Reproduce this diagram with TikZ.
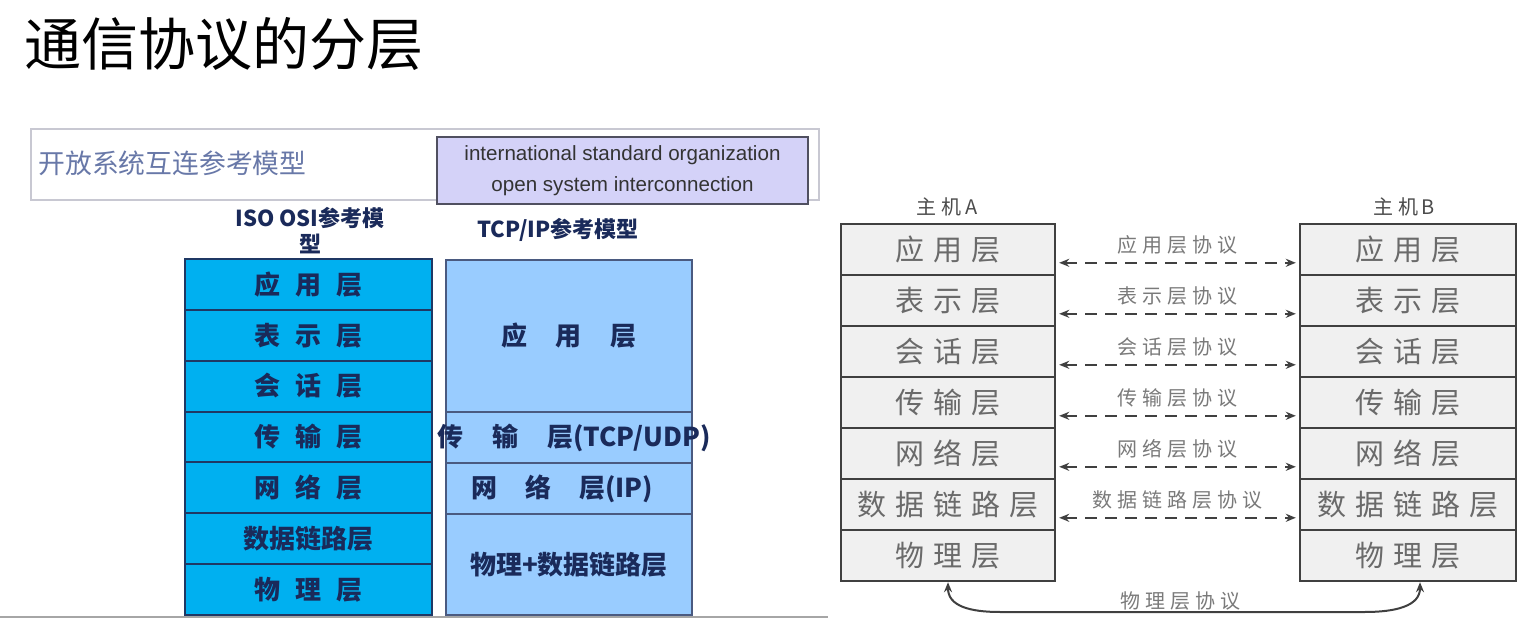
\documentclass[tikz,border=0pt]{standalone}
\usepackage{fontspec}
\setmainfont{Noto Sans CJK SC}
\newfontfamily\latf{Liberation Sans}
\usetikzlibrary{calc,arrows.meta}
\newcommand\pxf[1]{\fontsize{#1}{#1}\selectfont}
\def\letspaux#1{\ifx#1\relax\unkern\else#1\kern\gapsz\expandafter\letspaux\fi}
\newcommand\letsp[2]{\def\gapsz{#1}\expandafter\letspaux#2\relax}
\definecolor{topgray}{HTML}{C8C8D2}
\definecolor{subblue}{HTML}{6878A8}
\definecolor{isofill}{HTML}{D4D2F8}
\definecolor{isoline}{HTML}{505060}
\definecolor{navy}{HTML}{1A2A5A}
\definecolor{osifill}{HTML}{00B0F0}
\definecolor{osiline}{HTML}{1F3864}
\definecolor{tcpfill}{HTML}{99CCFF}
\definecolor{tcpline}{HTML}{4A5A80}
\definecolor{hostfill}{HTML}{F0F0F0}
\definecolor{hostline}{HTML}{404040}
\definecolor{hosttext}{HTML}{6A6A6A}
\definecolor{lbltext}{HTML}{7A7A7A}
\begin{document}
\begin{tikzpicture}[x=0.5pt,y=-0.5pt,
  osirow/.style={draw=osiline,line width=1pt,fill=osifill,minimum width=123.5pt,minimum height=25.43pt,inner sep=0pt,text=navy,font=\pxf{13pt}\bfseries},
  tcprow/.style={draw=tcpline,line width=0.8pt,fill=tcpfill,minimum width=123pt,inner sep=0pt,text=navy,font=\pxf{13pt}\bfseries},
  tcptext/.style={inner sep=0pt,text=navy,font=\pxf{13pt}\bfseries},
  hostrow/.style={draw=hostline,line width=1.2pt,fill=hostfill,minimum height=25.5pt,inner sep=0pt,text=hosttext,font=\pxf{14.5pt}},
  hostlbl/.style={inner sep=0pt,text=black!70,font=\pxf{10pt}},
  proto/.style={text=lbltext,font=\pxf{10pt},inner sep=0pt},
  darr/.style={draw=hostline,line width=1pt,dash pattern=on 6pt off 4pt,{Stealth[length=5pt,width=4pt]}-{Stealth[length=5pt,width=4pt]}},
  carr/.style={draw=hostline,line width=1pt,{Stealth[length=5pt,width=4pt]}-{Stealth[length=5pt,width=4pt]}}
]
\useasboundingbox (0,0) rectangle (1540,640);
\fill[white] (0,0) rectangle (1540,640);

% title
\node[anchor=west,inner sep=0pt,font=\pxf{28.5pt}] (title) at (24,44) {通信协议的分层};

% top banner
\node[draw=topgray,line width=0.8pt,minimum width=394pt,minimum height=35.5pt,anchor=north west,inner sep=0pt] (banner) at (30,128) {};
\node[anchor=west,inner sep=0pt,text=subblue,font=\pxf{13.4pt}] (sub) at (38,163) {开放系统互连参考模型};
\node[draw=isoline,line width=0.9pt,fill=isofill,minimum width=185.5pt,minimum height=33.5pt,inner sep=0pt,align=center,text=black!80,font=\latf\pxf{10.3pt}] (iso) at (622.5,170.5)
  {international standard organization\\[5pt]open system interconnection};

% headers
\node[align=center,inner sep=0pt,text=navy,font=\pxf{11pt}\bfseries] (osihdr) at (310,231) {ISO OSI参考模\\[2pt]型};
\node[inner sep=0pt,text=navy,font=\pxf{11pt}\bfseries] (tcphdr) at (558,230) {TCP/IP参考模型};

% OSI stack
\node[osirow] (o1) at (308.5,284.4) {\letsp{7.5pt}{应用层}};
\node[osirow] (o2) at (308.5,335.3) {\letsp{7.5pt}{表示层}};
\node[osirow] (o3) at (308.5,386.1) {\letsp{7.5pt}{会话层}};
\node[osirow] (o4) at (308.5,437.0) {\letsp{7.5pt}{传输层}};
\node[osirow] (o5) at (308.5,487.9) {\letsp{7.5pt}{网络层}};
\node[osirow] (o6) at (308.5,538.7) {数据链路层};
\node[osirow] (o7) at (308.5,589.6) {\letsp{7.5pt}{物理层}};

% TCP/IP stack
\node[tcprow,minimum height=76pt] (t1) at (569,336) {\letsp{14.5pt}{应用层}};
\node[tcprow,minimum height=25.5pt] (t2) at (569,437.5) {};
\node[tcptext,anchor=west] (t2txt) at (437,437.5) {\letsp{14.5pt}{传输层}(TCP/UDP)};
\node[tcprow,minimum height=25.5pt] (t3) at (569,488.5) {};
\node[tcptext,anchor=west] (t3txt) at (471,488.5) {\letsp{14pt}{网络层}(IP)};
\node[tcprow,minimum height=50.5pt] (t4) at (569,564.5) {物理+数据链路层};

% bottom rule
\draw[gray!70,line width=0.8pt] (0,617) -- (828,617);

% host labels
\node[hostlbl] (ha) at (947,207) {\letsp{2.5pt}{主机}\,A};
\node[hostlbl] (hb) at (1404,207) {\letsp{2.5pt}{主机}\,B};

% host A and B stacks
\foreach \i/\t in {1/应用层,2/表示层,3/会话层,4/传输层,5/网络层,6/数据链路层,7/物理层}{
  \node[hostrow,minimum width=107pt] (a\i) at (948,{249.5+51*(\i-1)}) {\letsp{4.5pt}{\t}};
  \node[hostrow,minimum width=108pt] (b\i) at (1408,{249.5+51*(\i-1)}) {\letsp{4.5pt}{\t}};
}

% protocol arrows
\foreach \i/\t in {1/应用层协议,2/表示层协议,3/会话层协议,4/传输层协议,5/网络层协议,6/数据链路层协议}{
  \draw[darr] ($(a\i.north east)+(3,40)$) -- ($(b\i.north west)+(-3,40)$)
     node[midway,proto,yshift=9pt] (p\i) {\letsp{2.5pt}{\t}};
}

% physical layer curve
\draw[carr] (a7.south) .. controls +(0,24) and +(-30,0) .. (1000,612) -- (1365,612) .. controls +(30,0) and +(0,24) .. ($(b7.south)+(12,0)$);
\node[proto] (p7) at (1180,601) {\letsp{2.5pt}{物理层协议}};
\end{tikzpicture}
\end{document}
